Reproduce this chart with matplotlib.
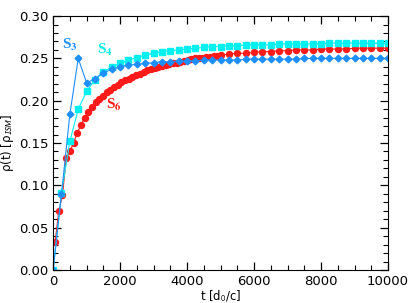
import numpy as np
import matplotlib
matplotlib.use("Agg")
import matplotlib.pyplot as plt
from matplotlib.ticker import MultipleLocator

plt.rcParams["mathtext.fontset"] = "stix"

# S3 and S4: sampled every 250 d0/c
t_250 = np.arange(0, 10001, 250)
s3 = [0.000, 0.090, 0.184, 0.250, 0.221, 0.226, 0.233, 0.237, 0.240, 0.242,
      0.243, 0.244, 0.245, 0.246, 0.246, 0.247, 0.247, 0.247, 0.248, 0.248,
      0.248, 0.248, 0.248, 0.249, 0.249, 0.249, 0.249, 0.249, 0.249, 0.249,
      0.250, 0.250, 0.250, 0.250, 0.250, 0.250, 0.250, 0.250, 0.250, 0.250,
      0.250]
s4 = [0.000, 0.091, 0.152, 0.190, 0.211, 0.225, 0.234, 0.240, 0.244, 0.248,
      0.251, 0.254, 0.256, 0.258, 0.259, 0.260, 0.261, 0.262, 0.263, 0.264,
      0.264, 0.265, 0.265, 0.266, 0.266, 0.266, 0.266, 0.267, 0.267, 0.267,
      0.267, 0.267, 0.267, 0.268, 0.268, 0.268, 0.268, 0.268, 0.268, 0.268,
      0.268]

# S6: dense run up to ~4900, then every 250
t_s6a = np.arange(60, 4901, 110)
s6a = [0.033, 0.070, 0.088, 0.132, 0.140, 0.150, 0.162, 0.171, 0.180, 0.187,
       0.193, 0.198, 0.202, 0.206, 0.210, 0.213, 0.216, 0.219, 0.222, 0.224,
       0.226, 0.228, 0.230, 0.232, 0.234, 0.236, 0.237, 0.239, 0.240, 0.241,
       0.242, 0.243, 0.244, 0.245, 0.246, 0.247, 0.248, 0.249, 0.250, 0.250,
       0.251, 0.252, 0.252, 0.253, 0.253]
t_s6b = np.arange(5000, 10001, 250)
s6b = [0.254, 0.255, 0.256, 0.256, 0.257, 0.258, 0.258, 0.259, 0.259, 0.260,
       0.260, 0.260, 0.261, 0.261, 0.261, 0.261, 0.262, 0.262, 0.262, 0.262,
       0.262]

c_blue = "#1e8fff"
c_cyan = "#00f0f0"
c_red = "#ff1a1a"

fig = plt.figure(figsize=(4.15, 3.03), dpi=100)
ax = fig.add_axes([0.128, 0.109, 0.807, 0.838])

ax.plot(t_s6a, s6a, "-o", color=c_red, ms=4.3, lw=0.8)
ax.plot(t_s6b, s6b, "-o", color=c_red, ms=4.3, lw=0.8)
ax.plot(t_250, s4, "-s", color=c_cyan, ms=4.8, lw=0.8)
ax.plot(t_250, s3, "-D", color=c_blue, ms=3.4, lw=0.8)

lab = dict(fontsize=11, family="Liberation Serif", fontweight="bold",
           ha="center", va="center")
ax.text(500, 0.266, r"S$_{\mathbf{3}}$", color=c_blue, **lab)
ax.text(1560, 0.260, r"S$_{\mathbf{4}}$", color=c_cyan, **lab)
ax.text(1800, 0.195, r"S$_{\mathbf{6}}$", color=c_red, **lab)

ax.set_xlim(0, 10000)
ax.set_ylim(0, 0.30)
ax.xaxis.set_major_locator(MultipleLocator(2000))
ax.xaxis.set_minor_locator(MultipleLocator(500))
ax.yaxis.set_major_locator(MultipleLocator(0.05))
ax.yaxis.set_minor_locator(MultipleLocator(0.01))
ax.yaxis.set_major_formatter(matplotlib.ticker.FormatStrFormatter("%.2f"))
ax.tick_params(which="both", direction="in", top=True, right=True, labelsize=9.5)
ax.tick_params(which="major", length=6, width=0.9)
ax.tick_params(which="minor", length=3.5, width=0.8)

ax.set_xlabel(r"t [d$_{\mathsf{0}}$/c]", fontsize=8.5, labelpad=0)
ax.set_ylabel(r"ρ(t) [ρ$_{\mathsf{ISM}}$]", fontsize=8.5, labelpad=2)

fig.savefig("out.png", dpi=100)
